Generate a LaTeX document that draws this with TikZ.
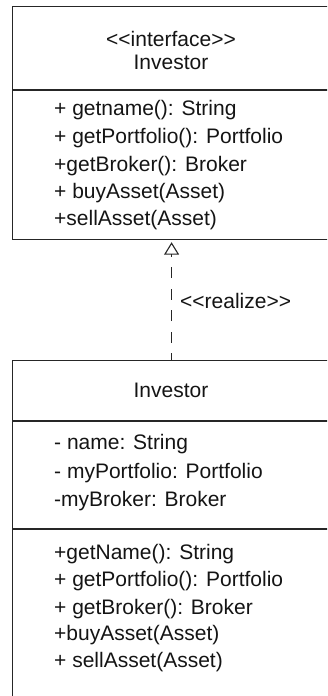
\documentclass[tikz,border=0pt]{standalone}
\usepackage{fontspec}
\newfontfamily\umlfont{Liberation Sans}
\usetikzlibrary{arrows.meta,calc}
\definecolor{linecol}{HTML}{262626}
\definecolor{textcol}{HTML}{141414}
\begin{document}
\begin{tikzpicture}[x=1pt,y=-1pt,
  box/.style={draw=linecol, line width=1.2pt, rectangle, inner sep=0pt, anchor=north west},
  rule/.style={draw=linecol, line width=1.2pt},
  txt/.style={inner sep=0pt, anchor=base west, font=\umlfont\fontsize{21}{25}\selectfont, text=textcol},
  ttl/.style={txt, anchor=base},
  realization/.style={draw=linecol, line width=1.1pt, dash pattern=on 11pt off 10.5pt, dash phase=4pt,
    -{Triangle[open, length=12.5pt, width=15pt]}}]
\clip (0,0) rectangle (327,696);

% interface class
\node[box, minimum width=318pt, minimum height=233pt] (iface) at (12,6) {};
\draw[rule] ([yshift=-84pt]iface.north west) -- ([yshift=-84pt]iface.north east);
\node[ttl] (ifstereo) at (171,46.5) {<<interface>>};
\node[ttl] (ifname) at (171,69) {Investor};
\node[txt] (ifm1) at (54,115) {+ getname(): String};
\node[txt] (ifm2) at (54,143.3) {+ getPortfolio(): Portfolio};
\node[txt] (ifm3) at (54,171.5) {+getBroker(): Broker};
\node[txt] (ifm4) at (54,198.5) {+ buyAsset(Asset)};
\node[txt] (ifm5) at (54,225.5) {+sellAsset(Asset)};

% implementing class
\node[box, minimum width=318pt, minimum height=360pt] (impl) at (12,360) {};
\draw[rule] ([yshift=-61pt]impl.north west) -- ([yshift=-61pt]impl.north east);
\draw[rule] ([yshift=-169pt]impl.north west) -- ([yshift=-169pt]impl.north east);
\node[ttl] (implname) at (171,397.5) {Investor};
\node[txt] (ima1) at (54,449.5) {- name: String};
\node[txt] (ima2) at (54,478) {- myPortfolio: Portfolio};
\node[txt] (ima3) at (54,506.5) {-myBroker: Broker};
\node[txt] (imm1) at (54,559) {+getName(): String};
\node[txt] (imm2) at (54,586.5) {+ getPortfolio(): Portfolio};
\node[txt] (imm3) at (54,614) {+ getBroker(): Broker};
\node[txt] (imm4) at (54,640.5) {+buyAsset(Asset)};
\node[txt] (imm5) at (54,667) {+ sellAsset(Asset)};

% realization
\draw[realization] (impl.north) -- ([yshift=-2pt]iface.south);
\node[txt] (realize) at (180,308) {<<realize>>};
\end{tikzpicture}
\end{document}
